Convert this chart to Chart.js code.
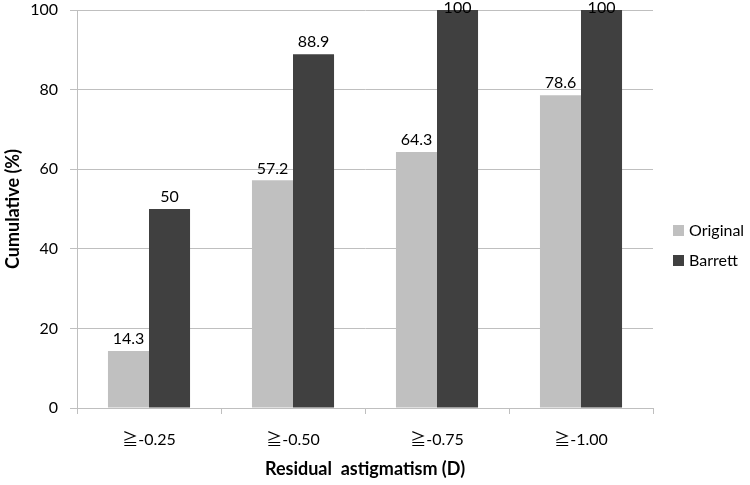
<!DOCTYPE html>
<html>
<head>
<meta charset="utf-8">
<script src="https://cdn.jsdelivr.net/npm/chart.js@4/dist/chart.umd.min.js"></script>
<style>
    html, body { margin: 0; padding: 0; background: #fff; }
    #wrap { width: 750px; height: 485px; }
</style>
</head>
<body>
<div id="wrap"><canvas id="myChart"></canvas></div>
<script>
const categories = ['≧-0.25', '≧-0.50', '≧-0.75', '≧-1.00'];
const originalValues = [14.3, 57.2, 64.3, 78.6];
const barrettValues = [50, 88.9, 100, 100];
const yTicks = [0, 20, 40, 60, 80, 100];

const FONT = "Lato, 'Noto Sans CJK JP', sans-serif";

// value labels above each bar, kept inside the canvas at the top
const barLabels = {
    id: 'barLabels',
    afterDatasetsDraw(chart) {
        const ctx = chart.ctx;
        ctx.save();
        ctx.font = '16px ' + FONT;
        ctx.fillStyle = '#000';
        ctx.textAlign = 'center';
        ctx.textBaseline = 'bottom';
        chart.data.datasets.forEach((ds, i) => {
            chart.getDatasetMeta(i).data.forEach((bar, j) => {
                const y = Math.max(bar.y - 4, 16);
                ctx.fillText(String(ds.data[j]), bar.x, y);
            });
        });
        ctx.restore();
    }
};

// legend on the right, centred on the canvas height like the original
const sideLegend = {
    id: 'sideLegend',
    afterDraw(chart) {
        const ctx = chart.ctx;
        const n = chart.data.datasets.length;
        const step = 30;
        let y = chart.height / 2 - (n - 1) * step / 2 + 3;
        ctx.save();
        ctx.font = '16px ' + FONT;
        ctx.textBaseline = 'middle';
        ctx.textAlign = 'left';
        chart.data.datasets.forEach(ds => {
            ctx.fillStyle = ds.backgroundColor;
            ctx.fillRect(673, y - 5.5, 11, 11);
            ctx.fillStyle = '#000';
            ctx.fillText(ds.label, 689, y);
            y += step;
        });
        ctx.restore();
    }
};

getContext();

function getContext() {
    const data = {
        labels: categories,
        datasets: [
            createDataset('Original', originalValues, '#c0c0c0'),
            createDataset('Barrett', barrettValues, '#404040')
        ]
    };
    generateChart(data);
}

function createDataset(text, values, color) {
    return {
        label: text,
        data: values,
        backgroundColor: color,
        borderWidth: 0,
        categoryPercentage: 0.57,
        barPercentage: 1
    };
}

function generateChart(data) {
    const ctx = document.getElementById('myChart');

    new Chart(ctx, {
        type: 'bar',
        data: data,
        plugins: [barLabels, sideLegend],
        options: {
            responsive: true,
            maintainAspectRatio: false,
            animation: false,
            layout: {
                padding: { top: 10, right: 97, left: 0, bottom: 0 }
            },
            scales: {
                x: {
                    grid: {
                        drawOnChartArea: false,
                        color: '#bfbfbf',
                        tickLength: 6
                    },
                    border: { color: '#bfbfbf' },
                    ticks: {
                        color: '#000',
                        padding: 16,
                        font: { family: FONT, size: 16 }
                    },
                    title: {
                        display: true,
                        text: 'Residual  astigmatism (D)',
                        color: '#000',
                        font: { family: FONT, size: 18, weight: 'bold' },
                        padding: { top: 0, bottom: 5 }
                    },
                    afterFit(scale) {
                        scale.height = 77;
                        scale.paddingLeft = 0;
                        scale.paddingRight = 0;
                    }
                },
                y: {
                    min: 0,
                    max: 100,
                    afterBuildTicks(scale) {
                        scale.ticks = yTicks.map(v => ({ value: v }));
                    },
                    grid: {
                        color: '#bfbfbf',
                        tickLength: 7
                    },
                    border: { color: '#bfbfbf' },
                    ticks: {
                        color: '#000',
                        padding: 12,
                        font: { family: FONT, size: 16 }
                    },
                    title: {
                        display: true,
                        text: 'Cumulative (%)',
                        color: '#000',
                        font: { family: FONT, size: 18, weight: 'bold' },
                        padding: { top: 2, bottom: 0 }
                    },
                    afterFit(scale) {
                        scale.width = 77;
                        scale.paddingTop = 0;
                        scale.paddingBottom = 0;
                    }
                }
            },
            plugins: {
                legend: { display: false },
                tooltip: { enabled: false }
            }
        }
    });
}
</script>
</body>
</html>
